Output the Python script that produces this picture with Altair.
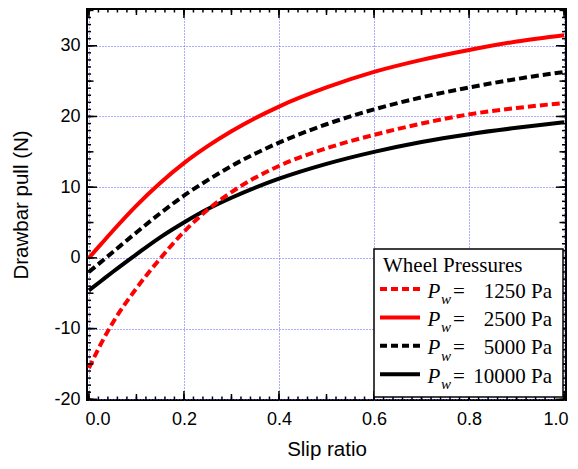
import altair as alt
import pandas as pd
import numpy as np

# ---- data ----
slip = [0.0, 0.025, 0.05, 0.1, 0.15, 0.2, 0.25, 0.3, 0.4, 0.5, 0.6, 0.7, 0.8, 0.9, 1.0]
pull_1250 = [-15.6, -12.2, -9.2, -4.3, -0.1, 3.7, 6.8, 9.3, 13.0, 15.5, 17.4, 19.0, 20.3, 21.2, 21.9]
pull_2500 = [0.0, 1.9, 3.8, 7.4, 10.6, 13.4, 15.8, 17.9, 21.4, 24.1, 26.3, 28.0, 29.4, 30.6, 31.5]
pull_5000 = [-2.0, -0.6, 0.8, 3.6, 6.3, 8.8, 11.0, 13.0, 16.3, 18.9, 21.0, 22.7, 24.1, 25.3, 26.3]
pull_10000 = [-4.6, -3.3, -2.0, 0.5, 2.9, 5.0, 6.9, 8.5, 11.2, 13.3, 15.0, 16.4, 17.5, 18.4, 19.2]

series_names = ["1250", "2500", "5000", "10000"]
series_labels = ["1250 Pa", "2500 Pa", "5000 Pa", "10000 Pa"]
legend_title = "Wheel Pressures"
x_tick_values = [0.0, 0.2, 0.4, 0.6, 0.8, 1.0]
y_tick_values = [-20, -10, 0, 10, 20, 30]
x_title = "Slip ratio"
y_title = "Drawbar pull (N)"

# ---- layout / style ----
W, H = 479, 391
XDOM = [-0.004, 1.004]
YDOM = [-20.1, 35.2]
RED, BLACK = "#ff0000", "#000000"
DASH = [8, 4]
styles = {
    "1250": (RED, True),
    "2500": (RED, False),
    "5000": (BLACK, True),
    "10000": (BLACK, False),
}

xs = alt.Scale(domain=XDOM, nice=False, zero=False)
ys = alt.Scale(domain=YDOM, nice=False, zero=False)

all_series = dict(zip(series_names, [pull_1250, pull_2500, pull_5000, pull_10000]))
rows = []
for name in series_names:
    for s, v in zip(slip, all_series[name]):
        rows.append({"slip": s, "pull": v, "series": name})
df = pd.DataFrame(rows)

SANS = "Liberation Sans"
SERIF = "Liberation Serif"

axis_common = dict(
    grid=True, gridColor="#5a5aff", gridDash=[1, 2], gridWidth=1,
    ticks=False, domain=False,
    labelFont=SANS, labelFontSize=18, labelColor="black",
    titleFont=SANS, titleFontSize=20.5, titleFontWeight="normal", titleColor="black",
    labelOverlap=False,
)
x_axis = alt.Axis(values=x_tick_values, title=x_title, labelPadding=10, titlePadding=11,
                  format=".1f", labelFlush=6, labelFlushOffset=4, **axis_common)
y_axis = alt.Axis(values=y_tick_values, title=y_title, labelPadding=7, titlePadding=22,
                  labelFlush=False,
                  labelExpr="replace(datum.label, '\u2212', '-')", **axis_common)

layers = []

# curves (black first, red on top)
for name in ["10000", "5000", "2500", "1250"]:
    color, dashed = styles[name]
    mk = dict(color=color, strokeWidth=4, interpolate="monotone")
    if dashed:
        mk["strokeDash"] = DASH
    layers.append(
        alt.Chart(df[df.series == name]).mark_line(**mk).encode(
            x=alt.X("slip:Q", scale=xs, axis=x_axis),
            y=alt.Y("pull:Q", scale=ys, axis=y_axis),
        )
    )

# inward ticks on all four sides
x_minor = [round(v, 4) for v in np.arange(0, 1.0001, 0.02)]
x_mid = [round(v, 4) for v in np.arange(0, 1.0001, 0.1)]
y_minor = [int(v) for v in np.arange(-20, 36, 1)]
y_mid = [int(v) for v in np.arange(-20, 36, 5)]

for vals, L in [(x_minor, 3.5), (x_mid, 6), (x_tick_values, 9)]:
    d = pd.DataFrame({"slip": vals})
    layers.append(alt.Chart(d).mark_rule(color="black", strokeWidth=1.5).encode(
        x=alt.X("slip:Q", scale=xs, axis=x_axis), y=alt.value(H), y2=alt.value(H - L)))
    layers.append(alt.Chart(d).mark_rule(color="black", strokeWidth=1.5).encode(
        x=alt.X("slip:Q", scale=xs, axis=x_axis), y=alt.value(0), y2=alt.value(L)))

for vals, L in [(y_minor, 4), (y_mid, 6.5), (y_tick_values, 10)]:
    d = pd.DataFrame({"pull": vals})
    layers.append(alt.Chart(d).mark_rule(color="black", strokeWidth=1.5).encode(
        y=alt.Y("pull:Q", scale=ys, axis=y_axis), x=alt.value(0), x2=alt.value(L)))
    layers.append(alt.Chart(d).mark_rule(color="black", strokeWidth=1.5).encode(
        y=alt.Y("pull:Q", scale=ys, axis=y_axis), x=alt.value(W), x2=alt.value(W - L)))

# custom legend
BX0, BX1, BY0, BY1 = 287, 476, 240, 388
title_df = pd.DataFrame({"t": [legend_title]})
layers.append(alt.Chart(title_df).mark_rect(fill="white", stroke="black", strokeWidth=1.5).encode(
    x=alt.value(BX0), x2=alt.value(BX1), y=alt.value(BY0), y2=alt.value(BY1)))
layers.append(alt.Chart(title_df).mark_text(
    align="left", baseline="alphabetic", font=SERIF, fontSize=21, color="black").encode(
    x=alt.value(296), y=alt.value(263), text="t:N"))

for i, (name, lab) in enumerate(zip(series_names, series_labels)):
    color, dashed = styles[name]
    yb = 288.5 + 28.4 * i
    one = pd.DataFrame({"label": [lab]})
    mk = dict(color=color, strokeWidth=4)
    if dashed:
        mk["strokeDash"] = [7, 4]
    layers.append(alt.Chart(one).mark_rule(**mk).encode(
        x=alt.value(293), x2=alt.value(333), y=alt.value(yb - 8.5)))
    layers.append(alt.Chart(one).mark_text(
        align="left", baseline="alphabetic", font=SERIF, fontSize=21,
        fontStyle="italic", color="black").encode(
        x=alt.value(340.5), y=alt.value(yb), text=alt.value("P")))
    layers.append(alt.Chart(one).mark_text(
        align="left", baseline="alphabetic", font=SERIF, fontSize=15,
        fontStyle="italic", color="black").encode(
        x=alt.value(354), y=alt.value(yb + 6.5), text=alt.value("w")))
    layers.append(alt.Chart(one).mark_text(
        align="left", baseline="alphabetic", font=SERIF, fontSize=21,
        color="black").encode(
        x=alt.value(366), y=alt.value(yb), text=alt.value("=")))
    layers.append(alt.Chart(one).mark_text(
        align="right", baseline="alphabetic", font=SERIF, fontSize=21,
        color="black").encode(
        x=alt.value(465), y=alt.value(yb), text="label:N"))

chart = alt.layer(*layers).properties(
    width=W, height=H,
    autosize=alt.AutoSizeParams(type="none"),
    padding={"left": 79, "top": 1, "right": 4, "bottom": 61},
).configure_view(stroke="black", strokeWidth=2)

chart.save("out.html", embed_options={"renderer": "svg", "actions": False})
